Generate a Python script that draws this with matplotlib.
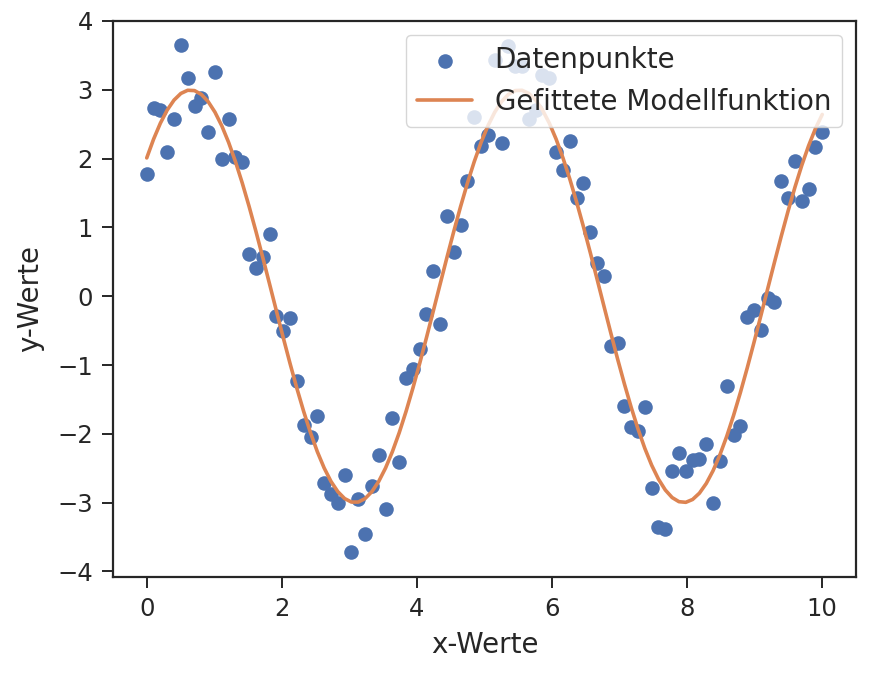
import numpy as np
import matplotlib
matplotlib.use("Agg")
import matplotlib.pyplot as plt
import seaborn as sns

# measured data points (x evenly spaced 0..10, 100 points)
x_values = np.linspace(0, 10, 100)
y_values = [
    1.78, 2.74, 2.70, 2.09, 2.58, 3.65, 3.17, 2.77, 2.88, 2.39,
    3.26, 1.99, 2.58, 2.03, 1.95, 0.61, 0.41, 0.57, 0.91, -0.29,
    -0.50, -0.32, -1.23, -1.87, -2.04, -1.74, -2.72, -2.87, -3.01, -2.60,
    -3.71, -2.95, -3.46, -2.76, -2.30, -3.09, -1.77, -2.41, -1.19, -1.06,
    -0.77, -0.26, 0.37, -0.41, 1.17, 0.64, 1.04, 1.68, 2.60, 2.18,
    2.34, 3.43, 2.22, 3.64, 3.34, 3.34, 2.57, 2.70, 3.21, 3.17,
    2.10, 1.84, 2.25, 1.43, 1.64, 0.93, 0.48, 0.30, -0.72, -0.68,
    -1.59, -1.90, -1.96, -1.61, -2.79, -3.36, -3.38, -2.54, -2.28, -2.54,
    -2.38, -2.36, -2.15, -3.01, -2.40, -1.31, -2.01, -1.89, -0.30, -0.20,
    -0.49, -0.03, -0.09, 1.67, 1.43, 1.97, 1.38, 1.56, 2.17, 2.39,
]

x_ticks = [0, 2, 4, 6, 8, 10]
y_ticks = [-4, -3, -2, -1, 0, 1, 2, 3, 4]


def fit_sine(x, y):
    # model a*sin(b*x + c): scan b, solve the linear part by least squares
    y = np.asarray(y)
    best = None
    for b in np.linspace(1.0, 1.6, 601):
        basis = np.column_stack([np.sin(b * x), np.cos(b * x)])
        coef, *_ = np.linalg.lstsq(basis, y, rcond=None)
        err = np.sum((basis @ coef - y) ** 2)
        if best is None or err < best[0]:
            best = (err, b, coef)
    _, b, (p, q) = best
    return lambda t: p * np.sin(b * t) + q * np.cos(b * t)


def main() -> None:
    sns.set_theme(style="ticks")
    plt.rcParams["font.family"] = ["DejaVu Sans"]

    fig = plt.figure(figsize=(8.71, 6.75), dpi=100)
    ax = fig.add_axes([0.1297, 0.1452, 0.8531, 0.8237])

    model = fit_sine(x_values, y_values)

    ax.scatter(x_values, y_values, s=110, color="#4C72B0", label="Datenpunkte",
               linewidths=0, zorder=2)
    ax.plot(x_values, model(x_values), color="#DD8452", linewidth=2.6,
            label="Gefittete Modellfunktion", zorder=3)

    ax.set_xlim(-0.5, 10.5)
    ax.set_ylim(-4.08, 4.0)
    ax.set_xticks(x_ticks)
    ax.set_yticks(y_ticks)
    ax.set_yticklabels([f"\u2212{abs(v)}" if v < 0 else str(v) for v in y_ticks])
    ax.tick_params(labelsize=17.5, length=8, width=1.4, pad=6.5, colors="#262626")
    for spine in ax.spines.values():
        spine.set_linewidth(1.6)
        spine.set_color("#262626")

    ax.set_xlabel("x-Werte", fontsize=20, color="#262626", labelpad=7)
    ax.set_ylabel("y-Werte", fontsize=20, color="#262626", labelpad=9)

    ax.legend(loc="upper right", fontsize=20, framealpha=0.8,
              borderpad=0.4, handletextpad=0.8)

    fig.savefig("out.png", dpi=100)
    plt.close(fig)


if __name__ == "__main__":
    main()
